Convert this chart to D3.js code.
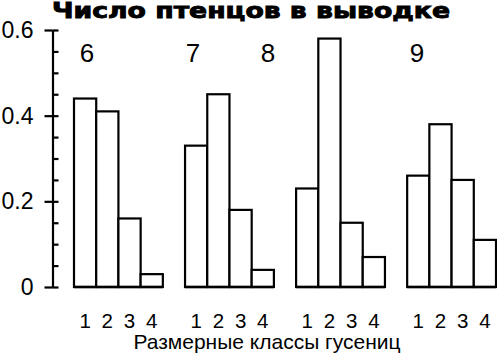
<!DOCTYPE html>
<html>
<head>
<meta charset="utf-8">
<script src="https://cdn.jsdelivr.net/npm/d3@7"></script>
<style>
  body { margin: 0; background: #fff; }
  svg { display: block; }
  text { font-family: "Liberation Sans", Arial, sans-serif; fill: #000; }
</style>
</head>
<body>
<div id="chart"></div>
<script>
// brood sizes (groups) and caterpillar size classes
let broods = ['6', '7', '8', '9'];
let classes = ['1', '2', '3', '4'];
let shares = [
    [0.44, 0.41, 0.16, 0.03],
    [0.33, 0.45, 0.18, 0.04],
    [0.23, 0.58, 0.15, 0.07],
    [0.26, 0.38, 0.25, 0.11]
];
let majorTicks = [0, 0.2, 0.4, 0.6];
let minorTicks = d3.range(0, 0.6001, 0.05);

var width = 497,
    height = 358;

var svg = d3.select('#chart')
    .append('svg')
    .attr('width', width)
    .attr('height', height);

var x0 = d3.scaleBand()
    .domain(broods)
    .range([74, 496])
    .paddingInner(0.2)
    .paddingOuter(0);

var x1 = d3.scaleBand()
    .domain(classes)
    .range([0, x0.bandwidth()]);

var y = d3.scaleLinear()
    .domain([0, 0.6])
    .range([287, 30]);

// title
svg.append('text')
    .attr('x', 52)
    .attr('y', 18)
    .attr('textLength', 398)
    .attr('lengthAdjust', 'spacingAndGlyphs')
    .style('font-family', '"DejaVu Sans", sans-serif')
    .style('font-weight', 'bold')
    .style('font-size', '21px')
    .style('stroke', '#000')
    .style('stroke-width', 0.9)
    .text('Число птенцов в выводке');

// y axis: labels + left half of major ticks
var yLeft = svg.append('g')
    .attr('transform', 'translate(52.5,0)')
    .call(d3.axisLeft(y)
        .tickValues(majorTicks)
        .tickSizeInner(8)
        .tickSizeOuter(0)
        .tickPadding(11)
        .tickFormat(function(d) { return d === 0 ? '0' : d.toFixed(1); }));

yLeft.selectAll('text')
    .style('font-size', '23px')
    .style('font-family', '"Liberation Sans", Arial, sans-serif');
yLeft.selectAll('line, path').attr('stroke', '#000').attr('stroke-width', 2.2);

// minor ticks on the right side
var yRight = svg.append('g')
    .attr('transform', 'translate(52.5,0)')
    .call(d3.axisRight(y)
        .tickValues(minorTicks)
        .tickSizeInner(6)
        .tickSizeOuter(0)
        .tickFormat(''));
yRight.select('.domain').remove();
yRight.selectAll('line').attr('stroke', '#000').attr('stroke-width', 2.2);

// bar groups
var groups = svg.selectAll('g.brood')
    .data(broods)
    .enter()
    .append('g')
    .attr('class', 'brood')
    .attr('transform', function(d) { return 'translate(' + x0(d) + ',0)'; });

groups.selectAll('rect')
    .data(function(d, i) {
        return shares[i].map(function(v, j) { return { cls: classes[j], value: v }; });
    })
    .enter()
    .append('rect')
    .attr('x', function(d) { return x1(d.cls); })
    .attr('y', function(d) { return y(d.value); })
    .attr('width', x1.bandwidth())
    .attr('height', function(d) { return y(0) - y(d.value); })
    .attr('fill', '#fff')
    .attr('stroke', '#000')
    .attr('stroke-width', 2.2);

// baseline under each group
groups.append('line')
    .attr('x1', 0)
    .attr('x2', x0.bandwidth())
    .attr('y1', y(0))
    .attr('y2', y(0))
    .attr('stroke', '#000')
    .attr('stroke-width', 2.5);

// class numbers under the bars
groups.append('g')
    .attr('transform', 'translate(0,' + y(0) + ')')
    .call(d3.axisBottom(x1).tickSize(0).tickPadding(26))
    .call(function(g) {
        g.select('.domain').remove();
        g.selectAll('text')
            .style('font-size', '20.5px')
            .style('font-family', '"Liberation Sans", Arial, sans-serif');
    });

// brood size labels
var labelX = [87, 193, 268, 417];
svg.selectAll('text.brood-label')
    .data(broods)
    .enter()
    .append('text')
    .attr('class', 'brood-label')
    .attr('x', function(d, i) { return labelX[i]; })
    .attr('y', 62)
    .attr('text-anchor', 'middle')
    .style('font-size', '26px')
    .text(function(d) { return d; });

// x axis title
svg.append('text')
    .attr('x', 267)
    .attr('y', 349)
    .attr('text-anchor', 'middle')
    .style('font-size', '21px')
    .text('Размерные классы гусениц');
</script>
</body>
</html>
